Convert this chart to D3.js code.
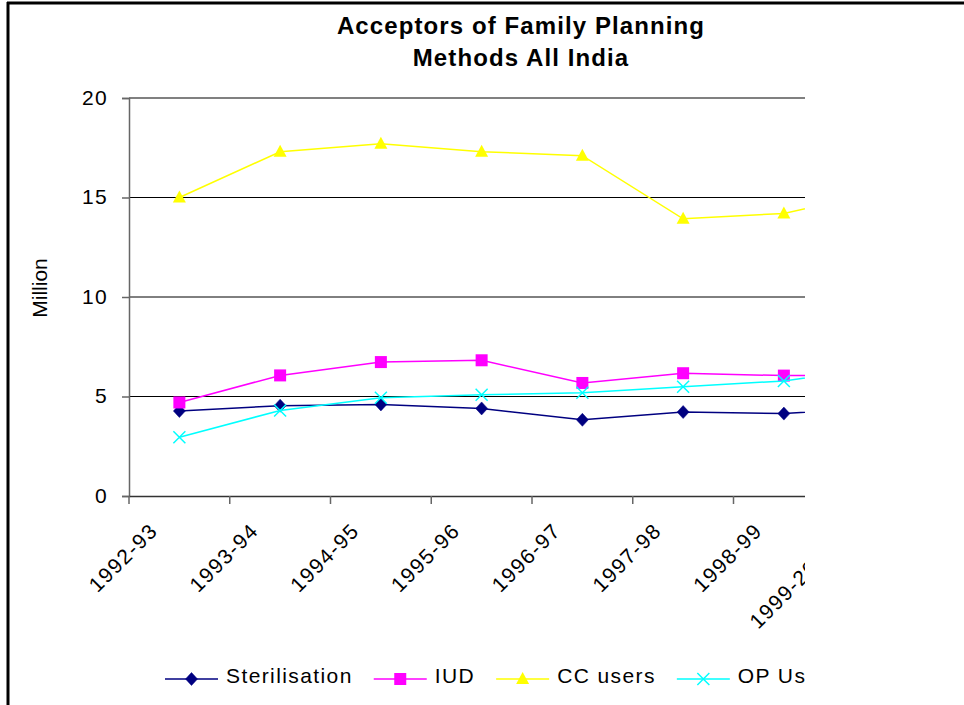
<!DOCTYPE html>
<html>
<head>
<meta charset="utf-8">
<script src="https://cdn.jsdelivr.net/npm/d3@7"></script>
<style>
  html, body { margin: 0; padding: 0; background: #fff; }
  svg { display: block; }
  text { font-family: "Liberation Sans", Arial, sans-serif; fill: #000; }
</style>
</head>
<body>
<svg id="chart" width="964" height="705"></svg>
<script>
// ---- data ----
const categories = ["1992-93", "1993-94", "1994-95", "1995-96", "1996-97", "1997-98", "1998-99", "1999-2000"];
const sterilisation = [4.27, 4.54, 4.6, 4.4, 3.83, 4.22, 4.14, 4.45];
const iud          = [4.7, 6.06, 6.73, 6.82, 5.68, 6.17, 6.05, 6.1];
const ccUsers      = [15.0, 17.3, 17.7, 17.3, 17.1, 13.93, 14.2, 15.3];
const opUsers      = [2.95, 4.3, 4.94, 5.09, 5.19, 5.49, 5.78, 6.5];
const seriesNames  = ["Sterilisation", "IUD", "CC users", "OP Us"];
const yTicks       = [0, 5, 10, 15, 20];
const titleLines   = ["Acceptors of Family Planning", "Methods All India"];
const yTitle       = "Million";

(function () {
const series = [
  { name: seriesNames[0], values: sterilisation, color: "#000080", marker: "diamond" },
  { name: seriesNames[1], values: iud,           color: "#FF00FF", marker: "square" },
  { name: seriesNames[2], values: ccUsers,       color: "#FFFF00", marker: "triangle" },
  { name: seriesNames[3], values: opUsers,       color: "#00FFFF", marker: "cross" }
];

const svg = d3.select("#chart");

// outer frame (chart border, partially visible)
svg.append("line").attr("x1", 7).attr("x2", 964).attr("y1", 3).attr("y2", 3)
  .attr("stroke", "#000").attr("stroke-width", 3);
svg.append("line").attr("x1", 8).attr("x2", 8).attr("y1", 2).attr("y2", 705)
  .attr("stroke", "#000").attr("stroke-width", 3);

// title
const title = svg.append("text")
  .attr("text-anchor", "middle")
  .style("font-size", "24px").style("font-weight", "bold").style("letter-spacing", "1.1px");
titleLines.forEach((t, i) => {
  title.append("tspan").attr("x", 521).attr("y", 34 + i * 32).text(t);
});

// clipped content region
svg.append("defs").append("clipPath").attr("id", "clip")
  .append("rect").attr("x", 0).attr("y", 0).attr("width", 805).attr("height", 705);
const g = svg.append("g").attr("clip-path", "url(#clip)");

const pL = 129, pR = 935, pT = 98, pB = 496;
const x = d3.scaleBand().domain(categories).range([pL, pR]).paddingInner(0).paddingOuter(0);
const y = d3.scaleLinear().domain([0, 20]).range([pB, pT]);

// gridlines
g.append("g").selectAll("line").data(yTicks.filter(d => d > 0)).join("line")
  .attr("x1", pL).attr("x2", pR)
  .attr("y1", d => y(d)).attr("y2", d => y(d))
  .attr("stroke", d => d === 20 ? "#808080" : "#000")
  .attr("stroke-width", d => d === 20 ? 2 : 1);

// y axis
const yAxis = g.append("g").attr("transform", `translate(${pL},0)`)
  .call(d3.axisLeft(y).tickValues(yTicks).tickSize(7).tickPadding(14).tickFormat(d3.format("d")));
yAxis.select(".domain").attr("stroke", "#666").attr("stroke-width", 1.5);
yAxis.selectAll(".tick line").attr("stroke", "#666").attr("stroke-width", 1.5);
yAxis.selectAll("text").style("font-size", "21px").style("letter-spacing", "1.3px")
  .style("font-family", "Liberation Sans, Arial, sans-serif").attr("fill", "#000").attr("dy", "0.3em");

// x axis
const xAxis = g.append("g").attr("transform", `translate(0,${pB})`)
  .call(d3.axisBottom(x).tickSize(0).tickFormat(""));
xAxis.select(".domain").attr("stroke", "#333").attr("stroke-width", 1.5);
// category boundary ticks
const bounds = categories.map(c => x(c)).concat([pR]);
xAxis.selectAll(".bound").data(bounds).join("line").attr("class", "bound")
  .attr("x1", d => d).attr("x2", d => d).attr("y1", 0).attr("y2", 8)
  .attr("stroke", "#666").attr("stroke-width", 1.5);
// rotated labels
xAxis.selectAll(".lab").data(categories).join("text").attr("class", "lab")
  .attr("text-anchor", "end")
  .style("font-size", "21px").style("letter-spacing", "1.4px")
  .attr("transform", (d) => {
    const px = x(d) + (d.length > 7 ? 4 : 30);
    const py = (d.length > 7 ? 54 : 36);
    return `translate(${px},${py}) rotate(-45)`;
  })
  .text(d => d);

// y title
svg.append("text")
  .attr("transform", "translate(47,288) rotate(-90)")
  .attr("text-anchor", "middle")
  .style("font-size", "21px")
  .text(yTitle);

// markers
function drawMarker(sel, type, color, cx, cy) {
  if (type === "diamond") {
    sel.append("path").attr("d", `M${cx},${cy - 6.5}L${cx + 6},${cy}L${cx},${cy + 6.5}L${cx - 6},${cy}Z`)
      .attr("fill", color).attr("stroke", color).attr("stroke-width", 0.5);
  } else if (type === "square") {
    sel.append("rect").attr("x", cx - 6).attr("y", cy - 6).attr("width", 12).attr("height", 12)
      .attr("fill", color);
  } else if (type === "triangle") {
    sel.append("path").attr("d", `M${cx},${cy - 7}L${cx + 6.5},${cy + 5}L${cx - 6.5},${cy + 5}Z`)
      .attr("fill", color);
  } else if (type === "cross") {
    sel.append("path").attr("d", `M${cx - 6},${cy - 6}L${cx + 6},${cy + 6}M${cx + 6},${cy - 6}L${cx - 6},${cy + 6}`)
      .attr("stroke", color).attr("stroke-width", 1.5).attr("fill", "none");
  }
}

const line = d3.line().x((d, i) => x(categories[i]) + x.bandwidth() / 2).y(d => y(d));
series.forEach(s => {
  const sg = g.append("g");
  sg.append("path").attr("d", line(s.values)).attr("fill", "none")
    .attr("stroke", s.color).attr("stroke-width", 1.5);
  s.values.forEach((v, i) => {
    drawMarker(sg, s.marker, s.color, x(categories[i]) + x.bandwidth() / 2, y(v));
  });
});

// legend
const lg = g.append("g");
let lx = 165;
const ly = 679;
series.forEach(s => {
  lg.append("line").attr("x1", lx).attr("x2", lx + 53).attr("y1", ly).attr("y2", ly)
    .attr("stroke", s.color).attr("stroke-width", 1.5);
  drawMarker(lg, s.marker, s.color, lx + 26.5, ly);
  const t = lg.append("text").attr("x", lx + 61).attr("y", 683)
    .style("font-size", "21px").style("letter-spacing", "1.4px").text(s.name);
  const w = t.node().getBBox().width;
  lx = lx + 61 + w + 21;
});
})();
</script>
</body>
</html>
